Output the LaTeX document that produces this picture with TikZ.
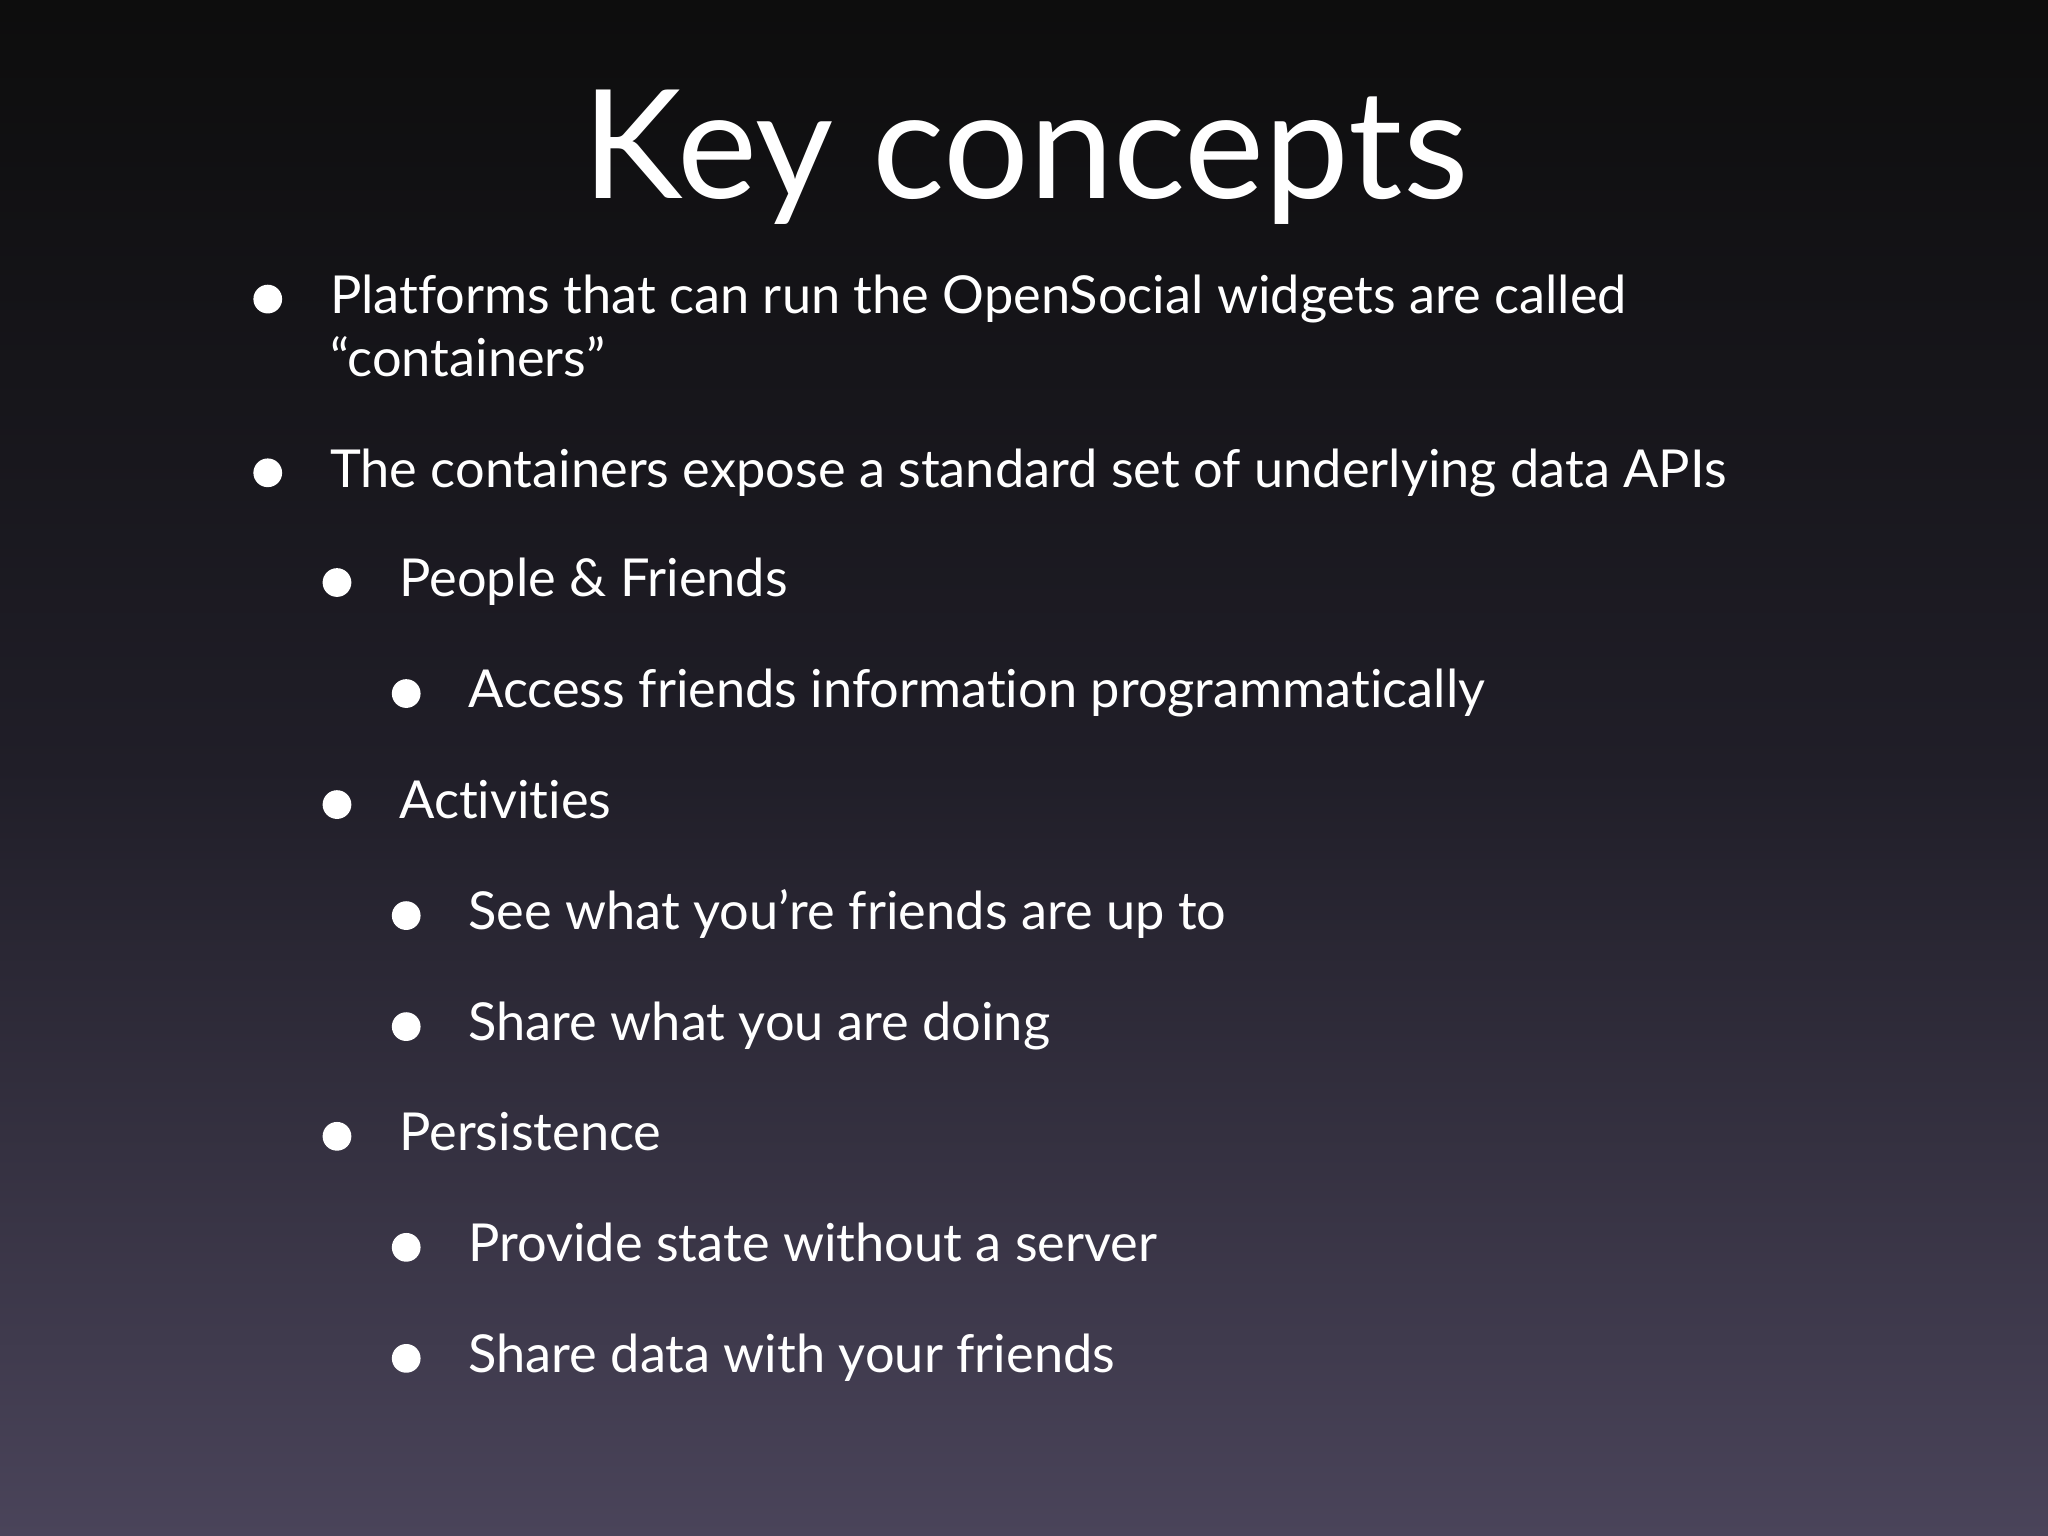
\documentclass[tikz,border=0pt]{standalone}
\usepackage{fontspec}
\setmainfont{Lato}[Ligatures={NoCommon}]
\begin{document}
\begin{tikzpicture}[x=1cm,y=-1cm,
    item/.style={anchor=base west, inner sep=0pt, text=white, font=\fontsize{11.4pt}{14pt}\selectfont},
    dot/.style={fill=white}]

    % background
    \shade[top color=black!95, bottom color={rgb,255:red,74;green,68;blue,90}, middle color={rgb,255:red,32;green,30;blue,40}] (0,0) rectangle (15.68,11.76);
    \useasboundingbox (0,0) rectangle (15.68,11.76);

    % title
    \node[anchor=base, inner sep=0pt, text=white, font=\fontsize{33pt}{36pt}\selectfont] (title) at (7.85,1.52) {Key concepts};

    % level 1
    \node[item] (plat) at (2.52,2.40) {Platforms that can run the OpenSocial widgets are called};
    \node[item] (cont) at (2.52,2.88) {“containers”};
    \node[item] (apis) at (2.52,3.73) {The containers expose a standard set of underlying data APIs};
    \foreach \y in {2.40,3.73} \fill[dot] (2.05,\y-0.11) circle (0.11);

    % level 2
    \node[item] (people) at (3.05,4.57) {People \& Friends};
    \node[item] (activ) at (3.05,6.27) {Activities};
    \node[item] (persist) at (3.05,8.81) {Persistence};
    \foreach \y in {4.57,6.27,8.81} \fill[dot] (2.58,\y-0.11) circle (0.11);

    % level 3
    \node[item] (access) at (3.58,5.42) {Access friends information programmatically};
    \node[item] (see) at (3.58,7.12) {See what you’re friends are up to};
    \node[item] (share) at (3.58,7.97) {Share what you are doing};
    \node[item] (state) at (3.58,9.66) {Provide state without a server};
    \node[item] (data) at (3.58,10.51) {Share data with your friends};
    \foreach \y in {5.42,7.12,7.97,9.66,10.51} \fill[dot] (3.11,\y-0.11) circle (0.11);
\end{tikzpicture}
\end{document}
